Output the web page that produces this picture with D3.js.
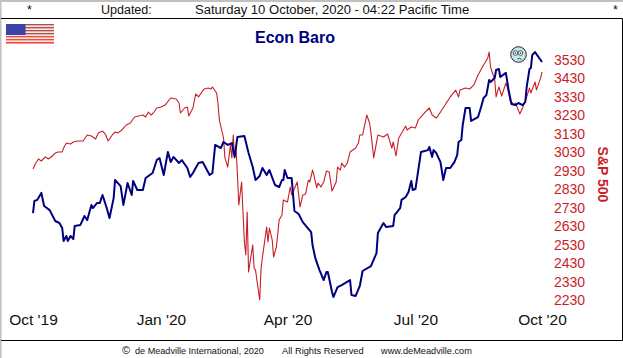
<!DOCTYPE html>
<html>
<head>
<meta charset="utf-8">
<script src="https://cdn.jsdelivr.net/npm/d3@7"></script>
<style>
  html, body { margin: 0; padding: 0; background: #fff; }
  svg { display: block; font-family: "Liberation Sans", Arial, sans-serif; }
  .domain { display: none; }
</style>
</head>
<body>
<div id="d3-area"></div>
<script>
// chart data. days = calendar days since the Oct '19 start
const spDays = [0,2,4,6,9,11,14,16,18,21,22,24,27,29,32,36,39,42,45,47,50,52,54,57,59,61,64,67,70,73,76,79,81,83,85,87,89,92,95,99,103,105,106,109,111,112,115,117,119,123,126,128,129,132,133,134,136,137,138,140,142,143,144,145,146,147,148,150,151,152,153,154,155,158,159,160,162,163,164,165,168,169,170,172,173,175,177,179,180,183,185,186,190,192,194,196,198,199,201,202,204,205,207,209,211,213,215,218,219,221,222,224,226,228,232,234,235,237,240,242,243,245,246,248,252,255,258,259,261,263,268,269,272,275,277,282,285,287,290,293,300,304,306,307,311,314,317,320,324,327,328,329,332,333,335,337,340,341,343,346,347,350,352,355,357,358,361,362,365,366];
const spValues = [2940,2972,2994,2983,3005,2994,3010,3026,3032,3032,3053,3080,3075,3086,3091,3091,3124,3118,3102,3135,3145,3129,3091,3124,3140,3135,3151,3178,3189,3221,3227,3232,3221,3248,3232,3248,3270,3275,3286,3324,3319,3297,3243,3270,3275,3227,3270,3346,3330,3373,3378,3373,3384,3351,3297,3205,3140,3108,3000,2950,3070,2999,3124,2999,3053,2907,2745,2869,2707,2544,2474,2707,2382,2528,2403,2392,2284,2230,2403,2463,2625,2544,2620,2555,2463,2517,2663,2690,2772,2761,2842,2799,2869,2734,2799,2804,2880,2869,2934,2907,2837,2864,2842,2869,2929,2923,2820,2869,2950,2934,2972,2950,2972,3032,3053,3080,3124,3124,3232,3189,3135,3000,3042,3124,3113,3129,3053,3086,3010,3108,3172,3151,3167,3162,3205,3248,3270,3232,3216,3248,3330,3367,3330,3367,3378,3373,3395,3449,3503,3541,3573,3492,3422,3330,3384,3335,3405,3384,3313,3286,3297,3238,3270,3330,3378,3351,3411,3368,3432,3465];

const baroDays = [0,1,3,6,8,12,16,19,21,22,24,25,27,29,30,34,37,39,42,43,46,48,50,53,55,58,59,63,65,68,71,72,75,79,81,86,89,91,94,97,99,101,105,107,111,113,115,119,122,127,129,131,135,137,140,143,145,147,152,155,158,160,163,165,168,170,174,177,179,180,181,183,186,187,188,191,194,197,200,201,203,206,209,211,212,215,216,219,222,228,229,232,235,237,243,247,248,252,254,259,260,264,265,268,270,272,273,275,279,284,285,287,288,290,293,295,297,300,303,305,306,308,309,311,314,315,320,322,324,326,328,329,332,333,335,336,340,342,344,347,349,352,354,355,357,358,359,361,366];
const baroValues = [2701,2766,2772,2810,2739,2717,2658,2647,2620,2550,2577,2550,2577,2560,2631,2636,2685,2663,2745,2728,2755,2755,2799,2728,2674,2782,2880,2847,2745,2864,2799,2875,2826,2826,2891,2918,2988,2999,2907,3032,2977,3005,2972,2988,2945,2896,2918,2972,2977,2907,2918,3070,3053,3086,3070,3080,3005,3113,3118,3026,2950,2880,2902,2945,2907,2934,2853,2842,2880,2880,2934,2891,2891,2799,2712,2696,2652,2625,2598,2528,2457,2392,2338,2382,2382,2273,2246,2300,2311,2338,2257,2252,2306,2387,2414,2484,2593,2647,2625,2631,2690,2728,2772,2788,2815,2875,2826,2831,3032,3042,3059,3005,3042,3026,2977,2880,2945,2945,2977,3015,3086,3097,3178,3270,3270,3200,3221,3270,3324,3340,3422,3411,3432,3476,3481,3438,3460,3368,3292,3286,3297,3286,3303,3384,3481,3487,3557,3573,3519];

const yTicks = [3530,3430,3330,3230,3130,3030,2930,2830,2730,2630,2530,2430,2330,2230];
const xTickDays = [0,92,183,275,366];
const xTickLabels = ["Oct '19","Jan '20","Apr '20","Jul '20","Oct '20"];

const width = 623;
const height = 358;
const redColor = "#c81e28";
const navy = "#000080";

const svg = d3.select("#d3-area")
  .append("svg")
  .attr("width", width)
  .attr("height", height);

// + SCALES
const xScale = d3.scaleLinear().domain([0, 366]).range([33, 542]);
const yScale = d3.scaleLinear().domain([2230, 3530]).range([300, 60]);

// + FRAME
svg.append("rect").attr("x", 0).attr("y", 0).attr("width", width).attr("height", 2).attr("fill", "#c0c0c0");
svg.append("rect").attr("x", 0).attr("y", 0).attr("width", 1.5).attr("height", height).attr("fill", "#c0c0c0");
svg.append("path")
  .attr("d", `M1,18.5H622.5V340.5H1`)
  .attr("fill", "none")
  .attr("stroke", "black");

// + HEADER
const header = [
  {x: 27, t: "*", s: 12.5},
  {x: 101, t: "Updated:", s: 12.5},
  {x: 195, t: "Saturday 10 October, 2020 - 04:22 Pacific Time", s: 13.05},
  {x: 613, t: "*", s: 12.5}
];
svg.selectAll("text.header")
  .data(header)
  .join("text")
  .attr("class", "header")
  .attr("x", d => d.x)
  .attr("y", 14)
  .attr("font-size", d => d.s)
  .attr("fill", "#111")
  .text(d => d.t);

svg.append("text")
  .attr("x", 295)
  .attr("y", 43)
  .attr("text-anchor", "middle")
  .attr("font-size", 16)
  .attr("font-weight", "bold")
  .attr("fill", navy)
  .text("Econ Baro");

// + FLAG
const flag = svg.append("g").attr("transform", "translate(6,24)");
d3.range(7).forEach(i => {
  flag.append("rect")
    .attr("x", 0).attr("y", i * 3)
    .attr("width", 48).attr("height", 1.6)
    .attr("fill", i > 3 ? "#f04a3c" : "#b05048");
  flag.append("rect")
    .attr("x", 0).attr("y", i * 3 + 1.6)
    .attr("width", 48).attr("height", 1.4)
    .attr("fill", i < 6 ? "#f4e4e0" : "none");
});
flag.append("rect").attr("width", 19.5).attr("height", 11).attr("fill", "#3a44a8");

// + AXES
const yAxis = d3.axisRight(yScale)
  .tickValues(yTicks)
  .tickFormat(d3.format("d"))
  .tickSize(0)
  .tickPadding(0);
const yAxisGroup = svg.append("g")
  .attr("transform", "translate(554,0)")
  .call(yAxis);
yAxisGroup.selectAll("text")
  .attr("font-family", "Liberation Sans")
  .attr("font-size", 14)
  .attr("fill", redColor);

const xAxis = d3.axisBottom(xScale)
  .tickValues(xTickDays)
  .tickFormat((d, i) => xTickLabels[i])
  .tickSize(0)
  .tickPadding(0);
const xAxisGroup = svg.append("g")
  .attr("transform", "translate(0,314)")
  .call(xAxis);
xAxisGroup.selectAll("text")
  .attr("font-family", "Liberation Sans")
  .attr("font-size", 15.5)
  .attr("fill", "#111");

svg.append("text")
  .attr("transform", "translate(598,174.5) rotate(90)")
  .attr("text-anchor", "middle")
  .attr("font-size", 14)
  .attr("font-weight", "bold")
  .attr("fill", redColor)
  .text("S&P 500");

// + LINES
const lineFunc = d3.line()
  .x(d => xScale(d[0]))
  .y(d => yScale(d[1]));

svg.append("path")
  .datum(d3.zip(spDays, spValues))
  .attr("fill", "none")
  .attr("stroke", redColor)
  .attr("stroke-width", 1.1)
  .attr("stroke-linejoin", "round")
  .attr("d", lineFunc);

svg.append("path")
  .datum(d3.zip(baroDays, baroValues))
  .attr("fill", "none")
  .attr("stroke", navy)
  .attr("stroke-width", 2)
  .attr("stroke-linejoin", "round")
  .attr("d", lineFunc);

// + FACE
const face = svg.append("g").attr("transform", "translate(518.5,54.5)");
face.append("circle").attr("r", 7.8).attr("fill", "#c4e6f0").attr("stroke", "#222").attr("stroke-width", 1);
[-3, 2].forEach(ex => {
  face.append("circle").attr("cx", ex).attr("cy", -1.5).attr("r", 2.3).attr("fill", "#fff").attr("stroke", "#333").attr("stroke-width", 0.8);
  face.append("circle").attr("cx", ex).attr("cy", -1.5).attr("r", 0.8).attr("fill", "#222");
});
face.append("path").attr("d", "M-1,4.5Q1,3 3,5").attr("fill", "none").attr("stroke", "#333").attr("stroke-width", 0.9);

// + FOOTER
const footer = [
  {x: 135, t: "de Meadville International, 2020", s: 9.1},
  {x: 282, t: "All Rights Reserved", s: 9.3},
  {x: 381, t: "www.deMeadville.com", s: 9.2}
];
svg.selectAll("text.footer")
  .data(footer)
  .join("text")
  .attr("class", "footer")
  .attr("x", d => d.x)
  .attr("y", 354)
  .attr("font-size", d => d.s)
  .attr("fill", "#111")
  .text(d => d.t);
svg.append("text")
  .attr("x", 122)
  .attr("y", 354)
  .attr("font-size", 11)
  .attr("fill", "#111")
  .text("©");
</script>
</body>
</html>
